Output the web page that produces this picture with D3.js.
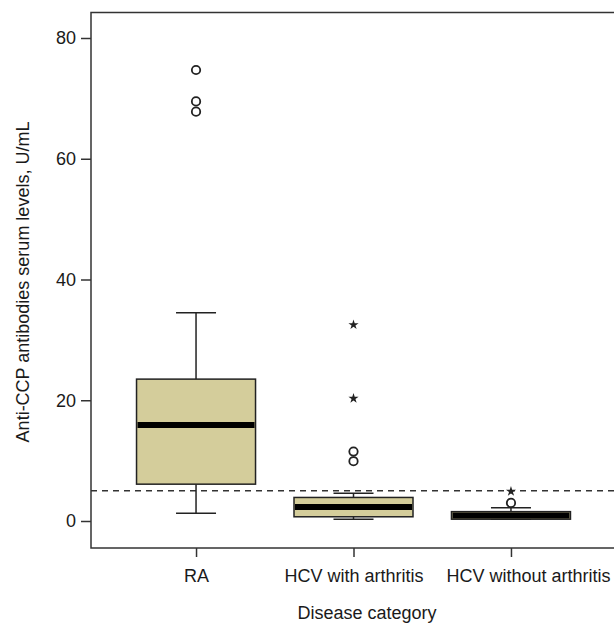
<!DOCTYPE html>
<html>
<head>
<meta charset="utf-8">
<script src="https://cdn.jsdelivr.net/npm/d3@7"></script>
<style>
  body { margin: 0; background: #fff; }
  text { font-family: "Liberation Sans", Arial, sans-serif; fill: #1a1a1a; }
</style>
</head>
<body>
<div id="boxplot"></div>
<script>
'use strict'

// categories and box statistics (U/mL)
const categories = ['RA', 'HCV with arthritis', 'HCV without arthritis']
const q1 = [6.1, 0.7, 0.3]
const medians = [15.9, 2.3, 0.9]
const q3 = [23.5, 3.9, 1.55]
const whiskerLow = [1.3, 0.3, 0.3]
const whiskerHigh = [34.5, 4.6, 2.2]

// outliers
const circleCats = ['RA', 'RA', 'RA', 'HCV with arthritis', 'HCV with arthritis', 'HCV without arthritis']
const circleVals = [74.7, 69.5, 67.8, 11.5, 9.9, 3.0]
const starCats = ['HCV with arthritis', 'HCV with arthritis', 'HCV without arthritis']
const starVals = [32.5, 20.3, 4.9]

const cutoff = 5
const yTicks = [0, 20, 40, 60, 80]

////////////////////////////////////
//////////// svg setup /////////////
////////////////////////////////////

const svgWidth = 614
const svgHeight = 624
const plot = { left: 91, right: 616, top: 12.5, bottom: 548 }
const fontSize = 18

const svg = d3.select('#boxplot').append('svg')
    .attr('width', svgWidth)
    .attr('height', svgHeight)

////////////////////////////////////
//////////////scales////////////////
////////////////////////////////////

const xScale = d3.scalePoint()
    .domain(categories)
    .range([plot.left, plot.right])
    .padding(0.667)

const yScale = d3.scaleLinear()
    .domain([0, 80])
    .range([521, 38])

const boxWidth = 119
const capWidth = 40

const boxes = categories.map((c, i) => ({
    cat: c, q1: q1[i], med: medians[i], q3: q3[i], lo: whiskerLow[i], hi: whiskerHigh[i]
}))

////////////////////////////////////
/////////////// DOM ////////////////
////////////////////////////////////

// cutoff dashed line
svg.append('line')
    .attr('x1', plot.left).attr('x2', plot.right)
    .attr('y1', yScale(cutoff)).attr('y2', yScale(cutoff))
    .attr('stroke', '#333')
    .attr('stroke-width', 1.5)
    .attr('stroke-dasharray', '6,5')

const g = svg.append('g').selectAll('g')
    .data(boxes)
    .join('g')

// whiskers
g.append('line')
    .attr('x1', d => xScale(d.cat)).attr('x2', d => xScale(d.cat))
    .attr('y1', d => yScale(d.q3)).attr('y2', d => yScale(d.hi))
    .attr('stroke', '#222').attr('stroke-width', 1.5)
g.append('line')
    .attr('x1', d => xScale(d.cat)).attr('x2', d => xScale(d.cat))
    .attr('y1', d => yScale(d.q1)).attr('y2', d => yScale(d.lo))
    .attr('stroke', '#222').attr('stroke-width', 1.5)
g.append('line')
    .attr('x1', d => xScale(d.cat) - capWidth / 2).attr('x2', d => xScale(d.cat) + capWidth / 2)
    .attr('y1', d => yScale(d.hi)).attr('y2', d => yScale(d.hi))
    .attr('stroke', '#222').attr('stroke-width', 1.5)
g.append('line')
    .attr('x1', d => xScale(d.cat) - capWidth / 2).attr('x2', d => xScale(d.cat) + capWidth / 2)
    .attr('y1', d => yScale(d.lo)).attr('y2', d => yScale(d.lo))
    .attr('stroke', '#222').attr('stroke-width', 1.5)

// boxes
g.append('rect')
    .attr('x', d => xScale(d.cat) - boxWidth / 2)
    .attr('width', boxWidth)
    .attr('y', d => yScale(d.q3))
    .attr('height', d => yScale(d.q1) - yScale(d.q3))
    .attr('fill', '#d4cd9b')
    .attr('stroke', '#222')
    .attr('stroke-width', 1.5)

// medians
g.append('line')
    .attr('x1', d => xScale(d.cat) - boxWidth / 2 + 1).attr('x2', d => xScale(d.cat) + boxWidth / 2 - 1)
    .attr('y1', d => yScale(d.med)).attr('y2', d => yScale(d.med))
    .attr('stroke', '#000').attr('stroke-width', 6)

// outliers
svg.append('g').selectAll('circle')
    .data(circleVals)
    .join('circle')
    .attr('cx', (d, i) => xScale(circleCats[i]))
    .attr('cy', d => yScale(d))
    .attr('r', 4.2)
    .attr('fill', '#fff')
    .attr('stroke', '#222')
    .attr('stroke-width', 1.8)

svg.append('g').selectAll('path')
    .data(starVals)
    .join('path')
    .attr('d', d3.symbol().type(d3.symbolStar).size(32))
    .attr('transform', (d, i) => `translate(${xScale(starCats[i])},${yScale(d)})`)
    .attr('fill', '#222')

////////////////////////////////////
///////////////axis/////////////////
////////////////////////////////////

svg.append('rect')
    .attr('x', plot.left).attr('y', plot.top)
    .attr('width', plot.right - plot.left)
    .attr('height', plot.bottom - plot.top)
    .attr('fill', 'none')
    .attr('stroke', '#333')
    .attr('stroke-width', 1.5)

const yAxis = svg.append('g')
    .attr('transform', `translate(${plot.left},0)`)
    .call(d3.axisLeft(yScale).tickValues(yTicks).tickSize(10).tickPadding(5))
yAxis.select('.domain').remove()
yAxis.selectAll('line').attr('stroke', '#333').attr('stroke-width', 1.5)
yAxis.selectAll('text').attr('font-size', fontSize).attr('fill', '#1a1a1a')
    .style('font-family', '"Liberation Sans", Arial, sans-serif')

const xAxis = svg.append('g')
    .attr('transform', `translate(0,${plot.bottom})`)
    .call(d3.axisBottom(xScale).tickSize(9))
xAxis.select('.domain').remove()
xAxis.selectAll('line').attr('stroke', '#333').attr('stroke-width', 1.5)
xAxis.selectAll('text').attr('font-size', fontSize).attr('fill', '#1a1a1a')
    .attr('dy', null).attr('y', 34)
    .attr('dx', (d, i) => i === categories.length - 1 ? 17 : 0)
    .style('font-family', '"Liberation Sans", Arial, sans-serif')

svg.append('text')
    .attr('transform', 'translate(29,282) rotate(-90)')
    .attr('text-anchor', 'middle')
    .attr('font-size', fontSize)
    .text('Anti-CCP antibodies serum levels, U/mL')

svg.append('text')
    .attr('x', 367)
    .attr('y', 619)
    .attr('text-anchor', 'middle')
    .attr('font-size', fontSize)
    .text('Disease category')
</script>
</body>
</html>
